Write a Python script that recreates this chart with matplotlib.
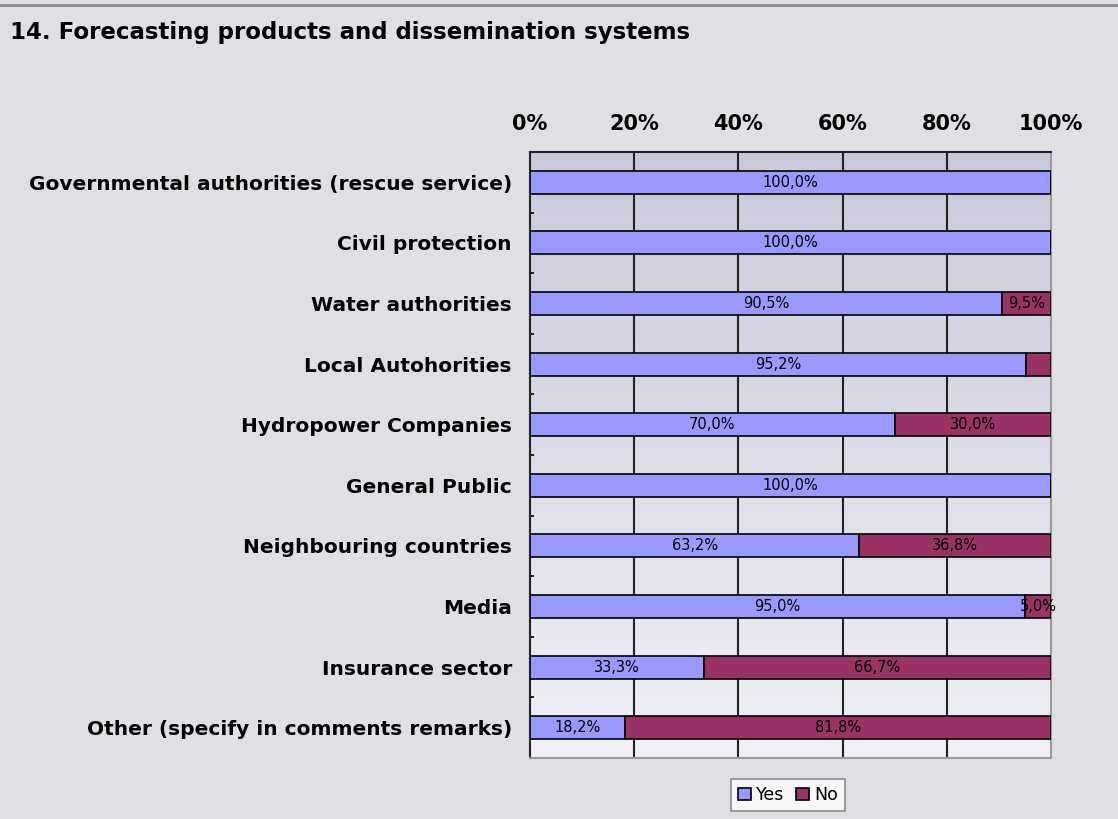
import numpy as np
import matplotlib
matplotlib.use("Agg")
import matplotlib.pyplot as plt
from matplotlib.lines import Line2D

categories = [
    "Governmental authorities (rescue service)",
    "Civil protection",
    "Water authorities",
    "Local Autohorities",
    "Hydropower Companies",
    "General Public",
    "Neighbouring countries",
    "Media",
    "Insurance sector",
    "Other (specify in comments remarks)",
]
yes = [100.0, 100.0, 90.5, 95.2, 70.0, 100.0, 63.2, 95.0, 33.3, 18.2]
no = [0.0, 0.0, 9.5, 4.8, 30.0, 0.0, 36.8, 5.0, 66.7, 81.8]
# the small 4.8% segment carries no label
no_labelled = [False, False, True, False, True, False, True, True, True, True]
xticks = [0, 20, 40, 60, 80, 100]

YES_COL = "#9999ff"
NO_COL = "#993366"

fig = plt.figure(figsize=(11.18, 8.19), dpi=100)
fig.patch.set_facecolor("#e0dfe4")
fig.add_artist(Line2D([0, 1], [0.9935, 0.9935], color="#8c8c8c", lw=2))

fig.text(0.009, 0.96, "14. Forecasting products and dissemination systems",
         fontsize=16.5, fontweight="bold", ha="left", va="center")

ax = fig.add_axes([0.4741, 0.0745, 0.466, 0.7399])

# vertical gradient behind the bars
grad = np.linspace(0, 1, 256).reshape(-1, 1)
top = np.array([0xc9, 0xc9, 0xda]) / 255
bot = np.array([0xf0, 0xf0, 0xf6]) / 255
img = top + (bot - top) * grad[:, :, None]
ax.imshow(img, extent=[0, 1, 0, 1], transform=ax.transAxes, aspect="auto",
          zorder=0, interpolation="bilinear")

y = np.arange(len(categories))
h = 0.38
ax.barh(y, yes, height=h, color=YES_COL, edgecolor="black", lw=1.2, zorder=3, label="Yes")
ax.barh(y, no, left=yes, height=h, color=NO_COL, edgecolor="black", lw=1.2, zorder=3, label="No")

for i in range(len(categories)):
    if yes[i] > 0:
        ax.text(yes[i] / 2, y[i], f"{yes[i]:.1f}%".replace(".", ","),
                ha="center", va="center", fontsize=10.5, zorder=4)
    if no[i] > 0 and no_labelled[i]:
        ax.text(yes[i] + no[i] / 2, y[i], f"{no[i]:.1f}%".replace(".", ","),
                ha="center", va="center", fontsize=10.5, zorder=4)

ax.set_xlim(0, 100)
ax.set_ylim(len(categories) - 0.5, -0.5)

for xv in xticks[1:-1]:
    ax.axvline(xv, color="#222222", lw=1.5, zorder=2)

ax.xaxis.tick_top()
ax.set_xticks(xticks)
ax.set_xticklabels([f"{v}%" for v in xticks], fontsize=15, fontweight="bold")
ax.tick_params(axis="x", length=0, pad=13)

ax.set_yticks(y)
ax.set_yticklabels(categories, fontsize=14.5, fontweight="bold", va="center_baseline")
ax.tick_params(axis="y", which="major", length=0, pad=13)
ax.set_yticks(np.arange(len(categories)) + 0.5, minor=True)
ax.tick_params(axis="y", which="minor", direction="in", length=3, width=1.2)

ax.spines["top"].set_color("#222222")
ax.spines["left"].set_color("#222222")
ax.spines["top"].set_linewidth(1.5)
ax.spines["left"].set_linewidth(1.5)
ax.spines["right"].set_color("#9a9a9a")
ax.spines["bottom"].set_color("#9a9a9a")
ax.spines["right"].set_linewidth(1.5)
ax.spines["bottom"].set_linewidth(1.5)

leg = ax.legend(loc="center", bbox_to_anchor=(0.495, -0.061), ncol=2, fontsize=12.5,
                frameon=True, fancybox=False, handlelength=0.75, handleheight=0.75,
                handletextpad=0.3, columnspacing=0.7, borderpad=0.4, borderaxespad=0)
leg.get_frame().set_edgecolor("#8c8c8c")
leg.get_frame().set_linewidth(1.5)

fig.savefig("out.png", dpi=100, facecolor=fig.get_facecolor())
